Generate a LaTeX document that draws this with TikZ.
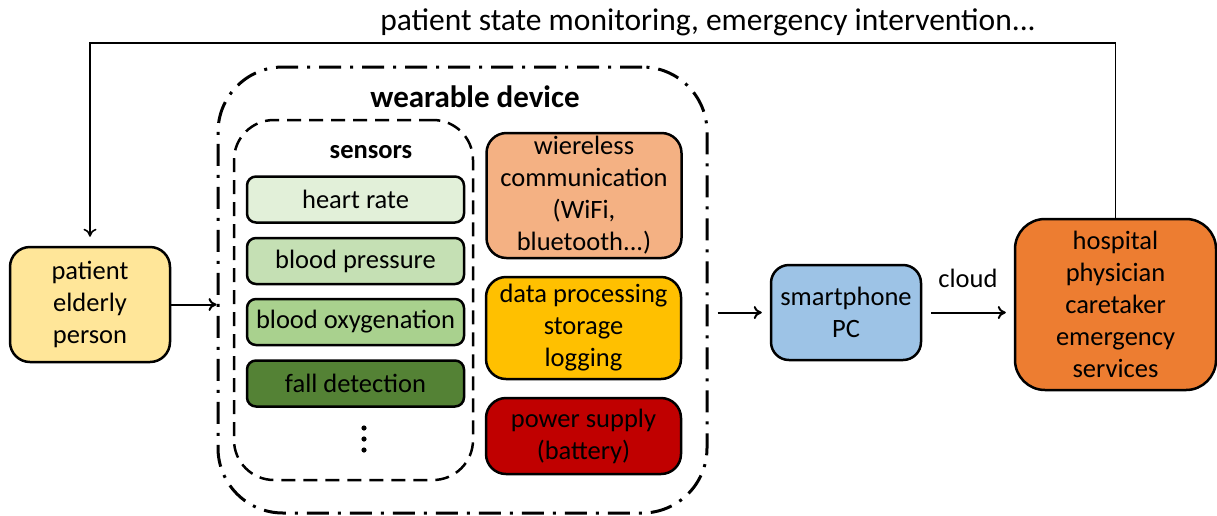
\documentclass[tikz,border=0pt]{standalone}
\usepackage{fontspec}
\setmainfont{Carlito}
\usetikzlibrary{arrows.meta}

\definecolor{patientfill}{HTML}{FFE699}
\definecolor{heartfill}{HTML}{E2F0D9}
\definecolor{pressurefill}{HTML}{C5E0B4}
\definecolor{oxyfill}{HTML}{A9D18E}
\definecolor{fallfill}{HTML}{548235}
\definecolor{wirelessfill}{HTML}{F4B183}
\definecolor{datafill}{HTML}{FFC000}
\definecolor{powerfill}{HTML}{C00000}
\definecolor{phonefill}{HTML}{9DC3E6}
\definecolor{hospitalfill}{HTML}{ED7D31}

\begin{document}
\begin{tikzpicture}[x=1pt, y=-1pt,
    box/.style={draw, line width=2.5pt, rounded corners=20pt, align=center, inner sep=0pt, font=\fontsize{26.5}{32}\selectfont},
    sensorbox/.style={box, rounded corners=9pt, minimum width=217pt, minimum height=46pt},
    sidebox/.style={box, minimum width=195pt},
    conn/.style={line width=2pt, -{To[length=8pt,width=13pt]}}]
    \useasboundingbox (0,0) rectangle (1217,515);
    % wearable device
    \node[draw, line width=3pt, dash pattern=on 22pt off 9pt on 3pt off 9pt, rounded corners=65pt, minimum width=489pt, minimum height=446pt] (device) at (462.5,290) {};
    \node[font=\fontsize{31}{36}\selectfont\bfseries] (devicetitle) at (475,97) {wearable device};
    % sensors
    \node[draw, line width=2.5pt, dash pattern=on 14pt off 8pt, rounded corners=40pt, minimum width=239pt, minimum height=360pt] (sensors) at (353.5,300) {};
    \node[font=\fontsize{26.5}{30}\selectfont\bfseries] (sensorstitle) at (371,152) {sensors};
    \node[sensorbox, fill=heartfill] (heart) at (355.5,199.5) {heart rate};
    \node[sensorbox, fill=pressurefill] (pressure) at (355.5,261) {blood pressure};
    \node[sensorbox, fill=oxyfill] (oxy) at (355.5,322) {blood oxygenation};
    \node[sensorbox, fill=fallfill] (fall) at (355.5,383.5) {fall detection};
    \foreach \y in {428,439,450}
      \fill (364,\y) circle (2.6pt);
    % other parts of the device
    \node[sidebox, fill=wirelessfill, minimum height=125pt] (wireless) at (584,195.5) {wiereless\\communication\\(WiFi,\\bluetooth...)};
    \node[sidebox, fill=datafill, minimum height=102pt] (data) at (583.5,328) {data processing\\storage\\logging};
    \node[sidebox, fill=powerfill, minimum height=76pt] (power) at (583.5,436) {power supply\\(battery)};
    % outside
    \node[box, fill=patientfill, minimum width=160pt, minimum height=115pt] (patient) at (90,304.5) {patient\\elderly\\person};
    \node[box, fill=phonefill, rounded corners=18pt, minimum width=150pt, minimum height=95pt] (phone) at (846,312.5) {smartphone\\PC};
    \node[box, fill=hospitalfill, rounded corners=30pt, minimum width=201pt, minimum height=171pt] (hospital) at (1115.5,304.5) {hospital\\physician\\caretaker\\emergency\\services};
    \node[font=\fontsize{31.5}{36}\selectfont] (feedbacktext) at (708,22) {patient state monitoring, emergency intervention...};
    \coordinate (feedbacktop) at (0,43);

    \draw[conn] (patient.east) -- (patient.east -| device.west);
    \draw[conn, shorten <=9pt, shorten >=8pt] (device.east |- phone.west) -- (phone.west);
    \draw[conn, shorten <=9pt, shorten >=8pt] (phone.east) -- (phone.east -| hospital.west) node[midway, above=20pt, font=\fontsize{26.5}{32}\selectfont] {cloud};
    \draw[conn, line width=1.6pt, shorten >=9pt] (hospital.north) |- (feedbacktop -| patient.north) -- (patient.north);
\end{tikzpicture}
\end{document}
